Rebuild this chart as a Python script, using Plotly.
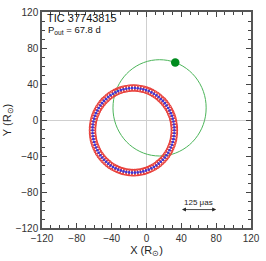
import plotly.graph_objects as go

# Inner (observed) orbit points, X and Y in solar radii
ring_x = [32.0,31.9,31.5,31.0,30.2,29.2,27.9,26.5,24.9,23.0,21.0,18.8,16.4,13.9,11.3,8.5,5.6,2.6,-0.5,-3.6,-6.8,-10.1,-13.4,
          -16.6,-19.9,-23.2,-26.4,-29.5,-32.6,-35.6,-38.5,-41.3,-43.9,-46.4,-48.8,-51.0,-53.0,-54.9,-56.5,-57.9,-59.2,-60.2,-61.0,-61.5,-61.9,
          -62.0,
          -61.9,-61.5,-61.0,-60.2,-59.2,-57.9,-56.5,-54.9,-53.0,-51.0,-48.8,-46.4,-43.9,-41.3,-38.5,-35.6,-32.6,-29.5,-26.4,-23.2,-19.9,-16.6,
          -13.4,-10.1,-6.8,-3.6,-0.5,2.6,5.6,8.5,11.3,13.9,16.4,18.8,21.0,23.0,24.9,26.5,27.9,29.2,30.2,31.0,31.5,31.9]
ring_y = [-11.5,-8.2,-5.0,-1.7,1.5,4.6,7.6,10.6,13.4,16.1,18.7,21.2,23.4,25.5,27.5,29.2,30.7,32.1,33.2,34.1,34.8,35.2,35.5,
          35.5,35.2,34.8,34.1,33.2,32.1,30.7,29.2,27.5,25.5,23.4,21.2,18.7,16.1,13.4,10.6,7.6,4.6,1.5,-1.7,-5.0,-8.2,
          -11.5,
          -14.8,-18.0,-21.3,-24.5,-27.6,-30.6,-33.6,-36.4,-39.1,-41.7,-44.2,-46.4,-48.5,-50.5,-52.2,-53.7,-55.1,-56.2,-57.1,-57.8,-58.2,-58.5,
          -58.5,-58.2,-57.8,-57.1,-56.2,-55.1,-53.7,-52.2,-50.5,-48.5,-46.4,-44.2,-41.7,-39.1,-36.4,-33.6,-30.6,-27.6,-24.5,-21.3,-18.0,-14.8]

# Outer orbit
outer_x = [68.5,67.7,65.3,61.3,56.0,49.4,41.8,33.3,24.3,15.0,5.7,-3.3,-11.8,-19.4,-26.0,-31.3,-35.3,-37.7,
           -38.5,-37.7,-35.3,-31.3,-26.0,-19.4,-11.8,-3.3,5.7,15.0,24.3,33.3,41.8,49.4,56.0,61.3,65.3,67.7,68.5]
outer_y = [13.5,22.8,31.8,40.3,47.9,54.5,59.8,63.8,66.2,67.0,66.2,63.8,59.8,54.5,47.9,40.3,31.8,22.8,
           13.5,4.2,-4.8,-13.3,-20.9,-27.5,-32.8,-36.8,-39.2,-40.0,-39.2,-36.8,-32.8,-27.5,-20.9,-13.3,-4.8,4.2,13.5]

# Current position on outer orbit
dot_x = [33.0]
dot_y = [64.0]

# Scale bar (125 micro-arcsec)
scale_x = [39.0, 80.0]
scale_y = [-99.5]
scale_label = "125 μas"

title_text = "TIC 37743815"
period_text = "P<sub>out</sub> = 67.8 d"

tick_vals = [-120, -80, -40, 0, 40, 80, 120]

fig = go.Figure()
fig.add_trace(go.Scatter(x=outer_x, y=outer_y, mode="lines", line=dict(color="#4cb55a", width=1, shape="spline"),
                         hoverinfo="skip", showlegend=False))
fig.add_trace(go.Scatter(x=ring_x, y=ring_y, mode="markers",
                         marker=dict(symbol="circle-open", size=6.5, color="#e8413c", line=dict(width=1.1)),
                         showlegend=False))
fig.add_trace(go.Scatter(x=ring_x, y=ring_y, mode="markers",
                         marker=dict(symbol="circle", size=2.6, color="#3a3ad8", line=dict(width=0)),
                         showlegend=False))
fig.add_trace(go.Scatter(x=dot_x, y=dot_y, mode="markers",
                         marker=dict(symbol="circle", size=8.5, color="#008c1e"), showlegend=False))

# scale bar double arrow
fig.add_annotation(x=scale_x[1], y=scale_y[0], ax=scale_x[0], ay=scale_y[0], xref="x", yref="y",
                   axref="x", ayref="y", text="", showarrow=True, arrowhead=2, arrowside="end+start",
                   arrowsize=1, arrowwidth=0.8, arrowcolor="#222")
fig.add_annotation(x=(scale_x[0] + scale_x[1]) / 2, y=scale_y[0], xref="x", yref="y", text=scale_label,
                   showarrow=False, yshift=7, font=dict(size=8, color="#222"))

fig.add_annotation(x=-117, y=113.5, xref="x", yref="y", text=title_text, showarrow=False,
                   xanchor="left", yanchor="middle", font=dict(size=11, color="#111"))
fig.add_annotation(x=-115, y=99.5, xref="x", yref="y", text=period_text, showarrow=False,
                   xanchor="left", yanchor="middle", font=dict(size=9.5, color="#111"))

axis_common = dict(range=[-120, 120], tickvals=tick_vals, ticks="inside", ticklen=5, tickwidth=1,
                   tickcolor="#444", showline=True, linecolor="#555", linewidth=1.5, mirror="ticks",
                   showgrid=False, zeroline=True, zerolinecolor="#cfcfcf", zerolinewidth=1,
                   tickfont=dict(size=10, color="#333"),
                   minor=dict(dtick=10, ticks="inside", ticklen=3, tickcolor="#444", showgrid=False))

fig.update_xaxes(**axis_common, title=dict(text="X (R<sub>⊙</sub>)", font=dict(size=11, color="#222"), standoff=3))
fig.update_yaxes(**axis_common, title=dict(text="Y (R<sub>⊙</sub>)", font=dict(size=11, color="#222"), standoff=2))

fig.update_layout(width=266, height=261, margin=dict(l=35, r=10, t=6, b=33),
                  plot_bgcolor="white", paper_bgcolor="white",
                  font=dict(family="Liberation Sans, Arial, sans-serif"))

fig.write_html("out.html", config={"displayModeBar": False},
               post_script="document.body.style.margin='0';document.body.style.overflow='hidden';")
